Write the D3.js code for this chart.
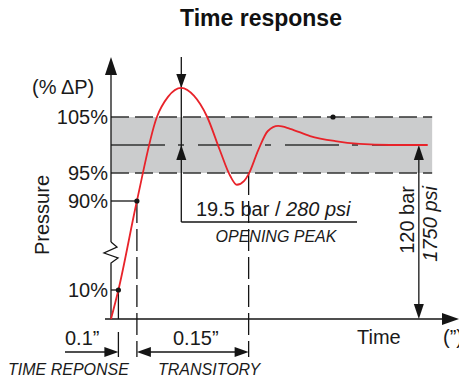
<!DOCTYPE html>
<meta charset="utf-8">
<style>
body { margin: 0; background: #fff; }
svg { font-family: "Liberation Sans", Arial, sans-serif; }
.lbl { font-size: 20px; fill: #1a1a1a; }
.cap { font-size: 16px; font-style: italic; fill: #1a1a1a; }
.title { font-size: 23px; font-weight: bold; fill: #111; }
</style>
<svg width="459" height="378"></svg>
<script src="https://cdn.jsdelivr.net/npm/d3@7"></script>
<script>

// time (s) and pressure (% of set pressure)
var time     = [0, 0.01, 0.035, 0.062, 0.077, 0.095, 0.112, 0.13, 0.147, 0.161, 0.17, 0.18, 0.186, 0.199, 0.212, 0.226, 0.242, 0.269, 0.303, 0.336, 0.377, 0.428];
var pressure = [0, 10, 90, 105, 108.6, 110.2, 108.8, 105, 99.1, 94.5, 92.9, 93.6, 94.8, 99.1, 102.5, 103.4, 102.9, 101.6, 100.7, 100.2, 100, 100];

// y axis ticks
var yTicks = [10, 90, 95, 105];
var yTickLabels = ["10%", "90%", "95%", "105%"];

// tolerance band and nominal line
var band = [95, 105];
var nominal = 100;

// key instants
var t10 = 0.01, t90 = 0.035, tPeak = 0.095, tSettle = 0.186, tRef = 0.416, tDot = 0.30, tBandEnd = 0.434;

var svg = d3.select("svg");

// broken axis : 0-10 compressed, 90-110 expanded
var x = d3.scaleLinear().domain([0, 0.45]).range([111, 444]);
var y = d3.scaleLinear().domain([0, 10, 90, 110]).range([319, 290, 201, 89]);

var ink = "#151515";

function arrow(px, py, dir, len, half) {
  var pts;
  if (dir == "up") pts = [[px, py], [px - half, py + len], [px + half, py + len]];
  if (dir == "down") pts = [[px, py], [px - half, py - len], [px + half, py - len]];
  if (dir == "left") pts = [[px, py], [px + len, py - half], [px + len, py + half]];
  if (dir == "right") pts = [[px, py], [px - len, py - half], [px - len, py + half]];
  svg.append("path").attr("d", "M" + pts.join("L") + "Z").attr("fill", ink);
}
function line(x1, y1, x2, y2, dash, col) {
  return svg.append("line")
    .attr("x1", x1).attr("y1", y1).attr("x2", x2).attr("y2", y2)
    .attr("stroke", col || ink).attr("stroke-width", 1.3)
    .attr("stroke-dasharray", dash || null);
}

// title
svg.append("text").attr("class", "title").attr("x", 261).attr("y", 26)
  .attr("text-anchor", "middle").text("Time response");

// tolerance band
svg.append("rect")
  .attr("x", x(0)).attr("y", y(band[1]))
  .attr("width", x(tBandEnd) - x(0)).attr("height", y(band[0]) - y(band[1]))
  .attr("fill", "#cbcccd");
band.forEach(function(b) { line(x(0), y(b), x(tBandEnd), y(b), "18,6", "#333"); });
line(x(0), y(nominal), x(tBandEnd), y(nominal), "54,13,6,14", "#333");

// y axis with break
var y0 = y(0);
line(x(0), 72, x(0), 242);
svg.append("path")
  .attr("d", "M111,242L117,247L104,253L118,258L111,263L111," + y0)
  .attr("fill", "none").attr("stroke", ink).attr("stroke-width", 1.3);
arrow(x(0), 57, "up", 18, 6);

// x axis
line(105, y0, 445, y0);
arrow(459, y0, "right", 17, 6);

// tick labels
svg.selectAll(".ytick").data(yTicks).enter().append("text")
  .attr("class", "lbl").attr("x", 108).attr("y", function(d) { return y(d) + 7; })
  .attr("text-anchor", "end")
  .text(function(d, i) { return yTickLabels[i]; });

svg.append("text").attr("class", "lbl").attr("x", 32).attr("y", 94).text("(% \u0394P)");
svg.append("text").attr("class", "lbl")
  .attr("transform", "translate(49,215) rotate(-90)")
  .attr("text-anchor", "middle").text("Pressure");
svg.append("text").attr("class", "lbl").attr("x", 357).attr("y", 344).text("Time");
svg.append("text").attr("class", "lbl").attr("x", 443).attr("y", 344).text("(\u201d)");

// 10% and 90% guides
line(x(0), y(10), x(t10), y(10));
line(x(t10), y(10), x(t10), y0);
line(x(t10), 332, x(t10), 357);
line(x(0), y(90), x(t90), y(90));
line(x(t90), y(90), x(t90), 357, "22,6");
line(x(tSettle), y(95), x(tSettle), 357, "22,6");

// opening peak marker
var xp = x(tPeak);
line(xp, 57, xp, 222);
line(xp, 222, 357, 222);
arrow(xp, y(110.2), "down", 14, 5);
arrow(xp, y(nominal), "up", 15, 5);
svg.append("text").attr("class", "lbl").attr("x", 196).attr("y", 216)
  .html('19.5 bar / <tspan font-style="italic">280 psi</tspan>');
svg.append("text").attr("class", "cap").attr("x", 276).attr("y", 242)
  .attr("text-anchor", "middle").text("OPENING PEAK");

// set pressure marker
var xr = x(tRef);
line(xr, y(nominal) + 12, xr, y0 - 12);
arrow(xr, y(nominal), "up", 15, 5);
arrow(xr, y0, "down", 15, 5);
svg.append("text").attr("class", "lbl")
  .attr("transform", "translate(414,186) rotate(-90)")
  .attr("text-anchor", "end").text("120 bar");
svg.append("text").attr("class", "lbl").style("font-style", "italic")
  .attr("transform", "translate(437,186) rotate(-90)")
  .attr("text-anchor", "end").text("1750 psi");

// the response curve
svg.append("path")
  .datum(time.map(function(t, i) { return [t, pressure[i]]; }))
  .attr("fill", "none").attr("stroke", "#e8232a").attr("stroke-width", 1.8)
  .attr("d", d3.line().x(function(d) { return x(d[0]); }).y(function(d) { return y(d[1]); })
    .curve(d3.curveMonotoneX));

// dots
[[t10, 10], [t90, 90], [tDot, 105]].forEach(function(p) {
  svg.append("circle").attr("cx", x(p[0])).attr("cy", y(p[1])).attr("r", 2.6).attr("fill", ink);
});

// time dimensions
var yd = 352;
line(65, yd, x(t10) - 12, yd);
arrow(x(t10), yd, "right", 14, 5);
line(x(t90) + 12, yd, x(tSettle) - 12, yd);
arrow(x(t90), yd, "left", 14, 5);
arrow(x(tSettle), yd, "right", 14, 5);
svg.append("text").attr("class", "lbl").attr("x", 65).attr("y", 345).text("0.1\u201d");
svg.append("text").attr("class", "lbl").attr("x", 173).attr("y", 345).text("0.15\u201d");
svg.append("text").attr("class", "cap").attr("x", 8).attr("y", 375).text("TIME REPONSE");
svg.append("text").attr("class", "cap").attr("x", 158).attr("y", 375).text("TRANSITORY");

</script>
